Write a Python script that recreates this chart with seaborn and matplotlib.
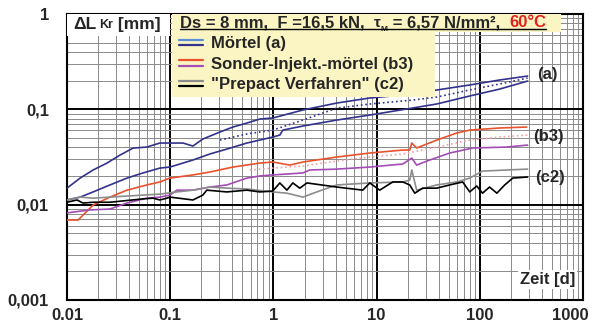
import numpy as np
import matplotlib.pyplot as plt
import seaborn as sns
from matplotlib.legend_handler import HandlerBase
from matplotlib.lines import Line2D
from matplotlib.patches import Rectangle
from matplotlib.ticker import LogLocator, NullFormatter
from matplotlib.transforms import ScaledTranslation

# ---------------- data (t in days, dL in mm) ----------------
t_a1 = [0.01, 0.0134, 0.0179, 0.0244, 0.0326, 0.0436, 0.0594, 0.0794, 0.0993, 0.133, 0.166, 0.207,
        0.303, 0.405, 0.553, 0.738, 0.986, 1.93, 4.11, 8.58, 17.9, 38.2, 79.7, 155, 290]
v_a1 = [0.0149, 0.0190, 0.0231, 0.0273, 0.0331, 0.0392, 0.0402, 0.0443, 0.0443, 0.0443, 0.0412, 0.0488,
        0.0578, 0.0652, 0.0718, 0.0791, 0.0811, 0.0984, 0.1164, 0.1315, 0.1413, 0.1595, 0.180, 0.203, 0.2235]

t_a2 = [0.01, 0.0134, 0.0179, 0.0261, 0.0381, 0.0545, 0.0794, 0.0993, 0.166, 0.242, 0.354, 0.553,
        0.738, 0.986, 1.153, 1.233, 1.93, 4.11, 8.58, 22.3, 38.2, 79.7, 155, 290]
v_a2 = [0.0112, 0.0120, 0.0136, 0.0161, 0.0190, 0.0215, 0.0242, 0.0248, 0.0294, 0.0340, 0.0383, 0.0443,
        0.0476, 0.0512, 0.0537, 0.0606, 0.0668, 0.0772, 0.0871, 0.1032, 0.1138, 0.138, 0.163, 0.198]

t_a3 = [0.303, 0.553, 0.986, 1.93, 4.11, 8.58, 22.3, 38.2, 79.7, 155, 290]
v_a3 = [0.0476, 0.0551, 0.0606, 0.0772, 0.103, 0.1137, 0.125, 0.1346, 0.1595, 0.1844, 0.213]

t_b1 = [0.01, 0.0128, 0.0179, 0.0261, 0.0381, 0.0594, 0.0794, 0.0993, 0.166, 0.242, 0.405, 0.738,
        0.986, 1.44, 1.93, 4.11, 8.58, 17.9, 20.9, 21.9, 24.4, 38.2, 59.6, 79.7, 155, 284]
v_b1 = [0.0069, 0.0069, 0.0099, 0.0120, 0.0142, 0.0161, 0.0173, 0.0190, 0.0205, 0.0220, 0.0248, 0.0273,
        0.0280, 0.0260, 0.0280, 0.0316, 0.0348, 0.0374, 0.0374, 0.0443, 0.0393, 0.0476, 0.0564, 0.0606,
        0.0637, 0.0652]

t_b2 = [0.01, 0.0167, 0.0261, 0.0381, 0.0594, 0.0794, 0.0993, 0.116, 0.166, 0.242, 0.354, 0.553,
        0.738, 0.986, 1.93, 2.25, 4.11, 8.58, 17.9, 21.9, 24.4, 32.7, 51.0, 85.1, 182, 290]
v_b2 = [0.0082, 0.0088, 0.0090, 0.0104, 0.0117, 0.0120, 0.0126, 0.0142, 0.0142, 0.0153, 0.0161, 0.0190,
        0.0200, 0.0205, 0.0215, 0.0231, 0.0236, 0.0248, 0.0267, 0.0308, 0.0260, 0.0294, 0.0348, 0.0393,
        0.0402, 0.0422]

t_b3 = [0.591, 0.986, 1.93, 4.11, 8.58, 17.9, 38.2, 79.7, 155, 290]
v_b3 = [0.0231, 0.0242, 0.0254, 0.0287, 0.0316, 0.0340, 0.0402, 0.0476, 0.0512, 0.0537]

t_c1 = [0.01, 0.0125, 0.0143, 0.0179, 0.0261, 0.0545, 0.0681, 0.0794, 0.0929, 0.0993, 0.166, 0.207,
        0.226, 0.354, 0.553, 0.738, 0.986, 1.153, 1.35, 1.54, 1.80, 2.11, 4.11, 7.33, 8.58, 10.7, 14.3,
        17.9, 20.9, 23.4, 27.9, 38.2, 51.0, 68.1, 79.7, 93.1, 106, 124, 146, 174, 208, 290]
v_c1 = [0.0106, 0.0112, 0.0104, 0.0106, 0.0106, 0.0115, 0.0117, 0.0112, 0.0117, 0.0120, 0.0112, 0.0126,
        0.0142, 0.0136, 0.0142, 0.0136, 0.0139, 0.0169, 0.0142, 0.0169, 0.0149, 0.0169, 0.0153, 0.0142,
        0.0169, 0.0142, 0.0173, 0.0173, 0.0161, 0.0132, 0.0149, 0.0149, 0.0161, 0.0173, 0.0136, 0.0157,
        0.0132, 0.0153, 0.0132, 0.0161, 0.0190, 0.0195]

t_c2 = [0.01, 0.0134, 0.0179, 0.0261, 0.0545, 0.0794, 0.116, 0.166, 0.242, 0.354, 0.553, 0.986, 1.35,
        1.93, 2.63, 4.11, 8.58, 17.9, 20.9, 21.9, 24.4, 38.2, 59.6, 79.7, 106, 182, 290]
v_c2 = [0.0112, 0.0120, 0.0117, 0.0120, 0.0126, 0.0129, 0.0136, 0.0142, 0.0153, 0.0149, 0.0146, 0.0136,
        0.0132, 0.0120, 0.0136, 0.0161, 0.0169, 0.0173, 0.0181, 0.0231, 0.0142, 0.0161, 0.0173, 0.0190,
        0.0225, 0.0231, 0.0236]

x_ticks = [0.01, 0.1, 1, 10, 100, 1000]
x_labels = ['0.01', '0.1', '1', '10', '100', '1000']
y_ticks = [0.001, 0.01, 0.1, 1]
y_labels = ['0,001', '0,01', '0,1', '1']
legend_labels = ['Mörtel (a)', 'Sonder-Injekt.-mörtel (b3)', '"Prepact Verfahren" (c2)']

# ---------------- styling ----------------
sns.set_theme(style="white")
plt.rcParams['font.family'] = ['Liberation Sans', 'DejaVu Sans']
plt.rcParams['font.weight'] = 'bold'

blue_dark = '#32328c'
blue_light = '#5b8fd6'
red = '#e8522c'
purple = '#a24cb4'
pink = '#f2a0a8'
grey = '#8c8c8c'
yellow = '#fbf5c4'

fig = plt.figure(figsize=(5.96, 3.24), dpi=100)
ax = fig.add_axes([0.1124, 0.0741, 0.866, 0.8827])
ax.set_xscale('log')
ax.set_yscale('log')

series = [
    (t_a1, v_a1, blue_dark, '-'), (t_a2, v_a2, blue_dark, '-'), (t_a3, v_a3, blue_dark, ':'),
    (t_b1, v_b1, red, '-'), (t_b3, v_b3, pink, ':'), (t_b2, v_b2, purple, '-'),
    (t_c2, v_c2, grey, '-'), (t_c1, v_c1, 'black', '-'),
]
for tx, vy, col, ls in series:
    sns.lineplot(x=tx, y=vy, color=col, linestyle=ls, lw=1.2, estimator=None, sort=False, ax=ax, zorder=3)

ax.set_xlim(0.01, 1000)
ax.set_ylim(0.001, 1)
ax.set_xticks(x_ticks)
ax.set_xticklabels(x_labels)
ax.set_yticks(y_ticks)
ax.set_yticklabels(y_labels)
ax.xaxis.set_minor_locator(LogLocator(base=10, subs=np.arange(2, 10)))
ax.yaxis.set_minor_locator(LogLocator(base=10, subs=np.arange(2, 10)))
ax.xaxis.set_minor_formatter(NullFormatter())
ax.yaxis.set_minor_formatter(NullFormatter())
ax.tick_params(which='both', length=0)
ax.tick_params(axis='x', labelsize=12, pad=6)
ax.tick_params(axis='y', labelsize=12, pad=13)
for lab in ax.get_xticklabels() + ax.get_yticklabels():
    lab.set_fontweight('bold')
# keep "1000" inside the canvas, as in the original
last = ax.get_xticklabels()[-1]
last.set_transform(last.get_transform() + ScaledTranslation(-9 / 72, 0, fig.dpi_scale_trans))

ax.grid(which='minor', color='#8a8a8a', lw=0.7)
ax.grid(which='major', color='black', lw=1.4)
ax.set_axisbelow(True)
for s in ax.spines.values():
    s.set_color('black')
    s.set_linewidth(1.5)
ax.set_xlabel('')
ax.set_ylabel('')

# y-axis title box (top-left)
ax.add_patch(Rectangle((0, 0.923), 0.1996, 0.077, transform=ax.transAxes, facecolor='white',
                       edgecolor='none', zorder=4))
t1 = ax.text(0.012, 0.962, 'ΔL', transform=ax.transAxes, fontsize=12.5, fontweight='bold',
             va='center', ha='left', zorder=5)
t2 = ax.annotate('Kr', xy=(1, 0), xycoords=t1, xytext=(2, 1), textcoords='offset points',
                 fontsize=9, fontweight='bold', va='bottom', ha='left', zorder=5)
ax.annotate(' [mm]', xy=(1, 0), xycoords=t2, xytext=(0, -1), textcoords='offset points',
            fontsize=12.5, fontweight='bold', va='bottom', ha='left', zorder=5)

# yellow legend area + header
ax.add_patch(Rectangle((0.2035, 0.937), 0.754, 0.063, transform=ax.transAxes, facecolor=yellow,
                       edgecolor='none', zorder=4))
ax.add_patch(Rectangle((0.2035, 0.71), 0.51, 0.227, transform=ax.transAxes, facecolor=yellow,
                       edgecolor='none', zorder=4))
h1 = ax.text(0.219, 0.969, 'Ds = 8 mm,  F =16,5 kN,  ', transform=ax.transAxes, fontsize=12,
             fontweight='bold', va='center', ha='left', zorder=5)
h2 = ax.annotate('τ', xy=(1, 0), xycoords=h1, fontsize=11, fontweight='bold', va='bottom', ha='left', zorder=5)
h3 = ax.annotate('M', xy=(1, 0), xycoords=h2, xytext=(0, -2), textcoords='offset points', fontsize=6,
                 fontweight='bold', va='bottom', ha='left', zorder=5)
h4 = ax.annotate(' = 6,57 N/mm²,  ', xy=(1, 0), xycoords=h3, xytext=(0, 2), textcoords='offset points',
                 fontsize=12, fontweight='bold', va='bottom', ha='left', zorder=5)
h5 = ax.annotate('60°C', xy=(1, 0), xycoords=h4, fontsize=12, fontweight='bold', color='#e0201c',
                 va='bottom', ha='left', zorder=5)
fig.canvas.draw()
inv = ax.transAxes.inverted()
bb1 = h1.get_window_extent()
bb5 = h5.get_window_extent()
x0, y0 = inv.transform((bb1.x0, bb1.y0))
x1, _ = inv.transform((bb5.x1, bb5.y0))
ax.add_line(Line2D([x0, x1], [y0 + 0.004, y0 + 0.004], transform=ax.transAxes, color='black', lw=1.0, zorder=5))


class Pair:
    def __init__(self, c1, c2):
        self.c1, self.c2 = c1, c2


class PairHandler(HandlerBase):
    def create_artists(self, legend, orig, xd, yd, w, h, fontsize, trans):
        l1 = Line2D([xd, xd + w], [yd + h * 0.72] * 2, color=orig.c1, lw=1.6, transform=trans)
        l2 = Line2D([xd, xd + w], [yd + h * 0.28] * 2, color=orig.c2, lw=1.6, transform=trans)
        return [l1, l2]


handles = [Pair(blue_light, blue_dark), Pair(red, purple), Pair(grey, 'black')]
leg = ax.legend(handles, legend_labels, handler_map={Pair: PairHandler()}, loc='upper left',
                bbox_to_anchor=(0.2035, 0.945), frameon=False, prop={'size': 12, 'weight': 'bold'},
                handlelength=1.45, handletextpad=0.5, labelspacing=0.33, borderpad=0.4,
                borderaxespad=0)
leg.set_zorder(6)

# curve labels
for txt, xx, yy in [('(a)', 0.911, 0.787), ('(b3)', 0.903, 0.570), ('(c2)', 0.907, 0.427)]:
    ax.text(xx, yy, txt, transform=ax.transAxes, fontsize=12, fontweight='bold', va='center', ha='left',
            zorder=5)
ax.text(0.985, 0.07, 'Zeit [d]', transform=ax.transAxes, fontsize=12, fontweight='bold', va='center',
        ha='right', zorder=5, bbox=dict(facecolor='white', edgecolor='none', pad=1.5))

fig.savefig('out.png', dpi=100)
